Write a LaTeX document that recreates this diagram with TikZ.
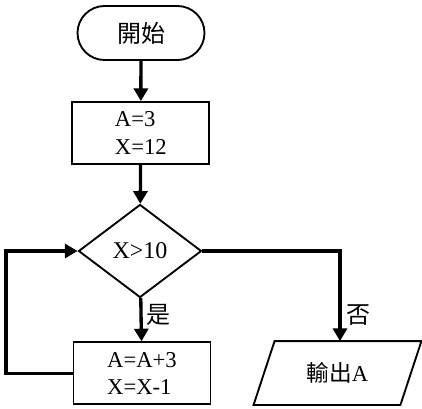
\documentclass[tikz,border=0pt]{standalone}
\usepackage{fontspec}
\setmainfont{Liberation Serif}
\newfontfamily\cjk{Noto Sans CJK TC}
\usetikzlibrary{shapes.geometric,shapes.misc,arrows.meta}
\newcommand\pxu{0.75pt}
\tikzset{
  shapeline/.style={draw=black, line width=1.4pt, inner sep=0pt},
  terminal/.style={shapeline, rounded rectangle, minimum width=127*\pxu, minimum height=54*\pxu,
    font=\fontsize{18pt}{21pt}\selectfont},
  procbox/.style={shapeline, rectangle, minimum width=137*\pxu, minimum height=62*\pxu, align=left,
    font=\fontsize{17pt}{20.6pt}\selectfont},
  decision/.style={shapeline, diamond, minimum width=123*\pxu, minimum height=93*\pxu,
    font=\fontsize{18pt}{21pt}\selectfont},
  iobox/.style={rectangle, inner sep=0pt, outer sep=0.7pt, minimum width=145*\pxu, minimum height=62*\pxu,
    font=\fontsize{17pt}{20.6pt}\selectfont},
  ioedge/.style={draw=black, line width=1.4pt, line join=miter},
  flow/.style={line width=2.5pt, -{Triangle[length=9.5pt,width=10.5pt]}},
  lbl/.style={font=\fontsize{18pt}{21pt}\selectfont\cjk, inner sep=0pt}
}
\begin{document}
\begin{tikzpicture}[x=0.75pt,y=-0.75pt]
\useasboundingbox (0,0) rectangle (422,408);
\node[terminal] (start) at (141,33) {\cjk 開始};
\node[procbox] (init) at (140.8,133) {A=3\\X=12};
\node[decision] (dia) at (140,251) {X>10};
\node[procbox] (upd) at (142,373.3) {A=A+3\\X=X-1};
\node[iobox] (out) at (337.5,373) {{\cjk 輸出}A};
\path[ioedge] ([xshift=10.5*\pxu]out.north west) -- ([xshift=10.5*\pxu]out.north east)
  -- ([xshift=-10.5*\pxu]out.south east) -- ([xshift=-10.5*\pxu]out.south west) -- cycle;
\coordinate (loop) at (6,373.3);
\draw[flow] (start) -- (init);
\draw[flow] (init) -- (dia);
\draw[flow] (dia) -- (upd);
\draw[flow] (upd.west) -- (loop) |- (dia.west);
\draw[flow] (dia.east) -| ([xshift=2.5*\pxu]out.north);
\node[lbl] (yes) at (158.5,315) {是};
\node[lbl] (no) at (358.5,315) {否};
\end{tikzpicture}
\end{document}
